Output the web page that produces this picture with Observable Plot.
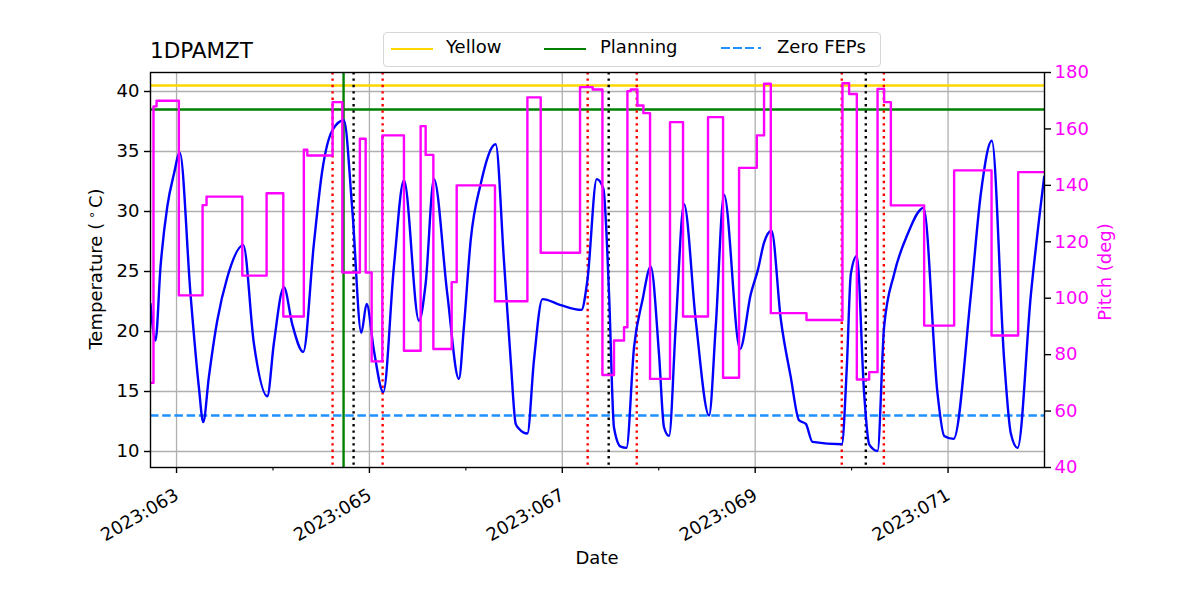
<!DOCTYPE html>
<html><head><meta charset="utf-8">
<script src="https://cdn.jsdelivr.net/npm/d3@7"></script>
<script src="https://cdn.jsdelivr.net/npm/@observablehq/plot@0.6"></script>
<style>
body{margin:0;background:#fff;font-family:"DejaVu Sans",sans-serif;}
#wrap{position:relative;width:1200px;height:600px;overflow:hidden;}
#wrap svg{position:absolute;left:0;top:0;}
.lbl{position:absolute;font-size:18px;line-height:18px;white-space:nowrap;color:#000;}
.rot{transform:translate(-50%,-50%) rotate(-90deg);}
.deg{font-size:12.5px;position:relative;top:-6px;margin:0 3px 0 4px;}
#legend{position:absolute;left:383px;top:32px;width:496px;height:33px;border:1px solid #d6d6d6;border-radius:4px;background:rgba(255,255,255,0.8);}
.hl{position:absolute;top:15px;width:42px;height:0;}
</style></head><body>
<div id="wrap"></div>
<script>
// ---- data (day-of-year 2023) ----
const tempDay = [62.730,62.782,62.834,62.904,62.972,63.034,63.145,63.231,63.277,63.335,63.422,63.526,63.692,63.802,63.941,64.009,64.113,64.200,64.314,64.424,64.511,64.615,64.735,64.823,64.916,64.971,65.047,65.144,65.254,65.358,65.514,65.583,65.669,65.808,65.928,65.980,66.050,66.154,66.309,66.395,66.465,66.517,66.551,66.638,66.706,66.794,66.983,67.198,67.260,67.357,67.426,67.485,67.536,67.606,67.665,67.744,67.831,67.917,68.003,68.055,68.107,68.176,68.262,68.384,68.522,68.591,68.677,68.843,68.954,69.030,69.092,69.169,69.266,69.369,69.455,69.525,69.594,69.898,69.950,69.992,70.054,70.130,70.182,70.269,70.337,70.441,70.580,70.746,70.891,70.960,71.057,71.237,71.340,71.454,71.582,71.651,71.721,71.859,71.997];
const tempC   = [22.3,19.25,25.4,30.4,33.1,34.9,23.1,15.4,12.45,16.2,20.9,24.5,27.2,19.0,14.6,19.0,23.7,20.6,18.3,27.3,33.4,36.75,37.6,30.1,19.9,22.3,18.4,14.95,25.4,32.6,20.9,24.0,32.7,23.1,16.05,20.4,27.6,32.3,35.6,25.9,17.6,12.3,11.9,11.5,17.6,22.7,22.2,21.8,24.25,32.7,31.9,23.1,12.0,10.4,10.3,18.7,22.6,25.4,18.1,12.0,11.3,20.4,30.6,20.9,13.0,20.4,31.4,18.55,23.1,25.2,27.4,28.4,21.0,16.2,12.6,12.3,10.8,10.6,17.0,24.8,26.3,14.8,10.6,10.05,20.4,24.8,28.1,30.3,14.8,11.3,11.05,23.1,31.5,35.9,17.6,11.5,10.3,23.1,32.9];
const pitchDay = [62.730,62.761,62.793,63.024,63.270,63.311,63.682,63.934,64.107,64.320,64.356,64.618,64.719,64.901,64.961,65.023,65.134,65.358,65.531,65.583,65.663,65.853,65.905,66.302,66.638,66.776,67.184,67.315,67.416,67.536,67.640,67.675,67.710,67.779,67.841,67.910,68.117,68.252,68.511,68.667,68.833,69.017,69.092,69.162,69.532,69.905,69.974,70.054,70.182,70.269,70.337,70.407,70.752,71.063,71.451,71.727,72.0];
const pitchDeg = [70,168,170,101,133,136,108,137.2,93.5,152.6,150.6,169.5,109.1,156.5,109.1,77.6,157.7,81.4,161,150.8,82,105.7,140,98.9,171.2,116.1,174.8,174,72.8,85,89.7,173.4,174,168.3,165.6,71.4,162.4,93.5,164.2,71.8,146.2,157.7,176,94.7,92.3,176.2,172.4,71.2,73.8,174.2,169.5,132.9,90.3,145.3,86.8,144.7,144.7];
const yellowLimit = 40.5, planningLimit = 38.5, zeroFepLimit = 13;
const redLines = [64.618, 65.137, 67.263, 67.772, 69.898, 70.334];
const blackLines = [64.836, 67.481, 70.147];
const greenLines = [64.732];
const majorDays = [63, 65, 67, 69, 71];
const minorDays = [64, 66, 68, 70];
const tempTicks = [10, 15, 20, 25, 30, 35, 40];
const pitchTicks = [40, 60, 80, 100, 120, 140, 160, 180];
const tDomain = [8.667, 41.583];
const pDomain = [40, 180];
const xDomain = [62.73, 72.0];

const p2t = p => tDomain[0] + (p - pDomain[0]) * (tDomain[1] - tDomain[0]) / (pDomain[1] - pDomain[0]);
const t2p = t => pDomain[0] + (t - tDomain[0]) * (pDomain[1] - pDomain[0]) / (tDomain[1] - tDomain[0]);

const temp = tempDay.map((d, i) => ({d, v: tempC[i]}));
const pitch = pitchDay.map((d, i) => ({d, v: pitchDeg[i]}));
const fmtDay = d => "2023:" + String(d).padStart(3, "0");
const gridStyle = {stroke: "#b0b0b0", strokeOpacity: 1, strokeWidth: 1.3};
const FS = 18;

const chart = Plot.plot({
  width: 1200, height: 600,
  marginLeft: 150, marginRight: 156, marginTop: 72, marginBottom: 133,
  style: {fontFamily: "DejaVu Sans, sans-serif", fontSize: FS + "px", background: "transparent", color: "#000"},
  x: {domain: xDomain},
  y: {domain: tDomain},
  marks: [
    Plot.gridY(tempTicks, gridStyle),
    Plot.gridX(majorDays, gridStyle),
    Plot.ruleY([yellowLimit], {stroke: "#FFD700", strokeWidth: 2.4}),
    Plot.ruleY([planningLimit], {stroke: "green", strokeWidth: 2.4}),
    Plot.ruleY([zeroFepLimit], {stroke: "#1E90FF", strokeWidth: 2.4, strokeDasharray: "8.5,3.7"}),
    Plot.ruleX(redLines, {stroke: "red", strokeWidth: 2.4, strokeDasharray: "2.4,4"}),
    Plot.ruleX(blackLines, {stroke: "black", strokeWidth: 2.4, strokeDasharray: "2.4,4"}),
    Plot.ruleX(greenLines, {stroke: "green", strokeWidth: 2.4}),
    Plot.line(temp, {x: "d", y: "v", stroke: "blue", strokeWidth: 2.4, curve: "monotone-x", clip: true}),
    Plot.line(pitch, {x: "d", y: d => p2t(d.v), stroke: "magenta", strokeWidth: 2.4, curve: "step-after", clip: true}),
    Plot.frame({stroke: "black", strokeWidth: 1.4}),
    Plot.axisY(tempTicks, {anchor: "left", tickSize: 6, tickPadding: 5, strokeWidth: 1.4, label: null, fontSize: FS}),
    Plot.axisY(pitchTicks.map(p2t), {anchor: "right", tickSize: 6, tickPadding: 4, strokeWidth: 1.4, label: null, fontSize: FS, stroke: "black", fill: "magenta", tickFormat: t => String(Math.round(t2p(t)))}),
    Plot.axisX(majorDays, {anchor: "bottom", tickSize: 6, strokeWidth: 1.4, tickFormat: () => "", label: null}),
    Plot.axisX(minorDays, {anchor: "bottom", tickSize: 3.5, strokeWidth: 1.1, tickFormat: () => "", label: null}),
    Plot.text(majorDays, {x: d => d, text: fmtDay, frameAnchor: "bottom", textAnchor: "end", lineAnchor: "top", rotate: -30, dx: -3, dy: 20, fontSize: FS, fill: "black"})
  ]
});
const wrap = document.getElementById("wrap");
wrap.appendChild(chart);

function addLbl(html, css, cls) {
  const el = document.createElement("div");
  el.className = "lbl " + (cls || "");
  el.innerHTML = html;
  Object.assign(el.style, css);
  wrap.appendChild(el);
  return el;
}
addLbl("1DPAMZT", {left: "150px", top: "39.5px", fontSize: "21.5px", lineHeight: "21.5px"});
addLbl('Temperature (<span class="deg">∘</span>C)', {left: "97px", top: "269px"}, "rot");
addLbl("Pitch (deg)", {left: "1105px", top: "272px", color: "magenta"}, "rot");
addLbl("Date", {left: "597px", top: "558px", transform: "translate(-50%,-50%)"});

const legend = document.createElement("div");
legend.id = "legend";
wrap.appendChild(legend);
const items = [
  {label: "Yellow", color: "#FFD700", dash: false, lx: 7, tx: 62},
  {label: "Planning", color: "green", dash: false, lx: 160, tx: 216},
  {label: "Zero FEPs", color: "#1E90FF", dash: true, lx: 337, tx: 393}
];
for (const it of items) {
  const h = document.createElement("div");
  h.className = "hl";
  h.style.left = it.lx + "px";
  h.style.borderTop = "2.4px solid " + it.color;
  if (it.dash) {
    h.style.borderTop = "none";
    h.style.height = "2.4px";
    h.style.top = "14px";
    h.style.background = `repeating-linear-gradient(90deg, ${it.color} 0 8.5px, transparent 8.5px 12.2px)`;
    h.style.width = "40px";
  }
  legend.appendChild(h);
  const t = document.createElement("div");
  t.className = "lbl";
  t.textContent = it.label;
  t.style.left = it.tx + "px";
  t.style.top = "4.8px";
  legend.appendChild(t);
}
</script>
</body></html>
